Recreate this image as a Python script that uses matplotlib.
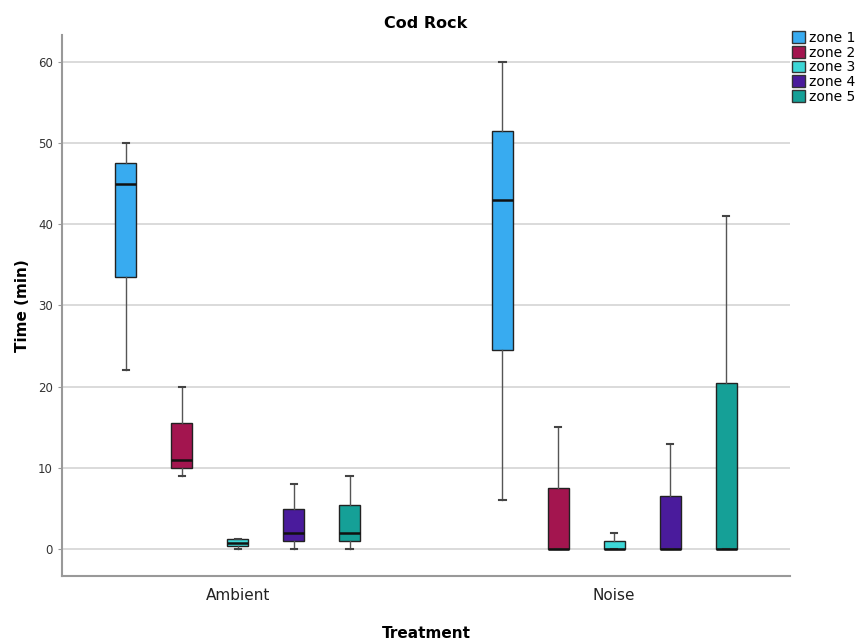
import matplotlib
matplotlib.use("Agg")
import matplotlib.pyplot as plt
from matplotlib.patches import Patch

# data (minutes)
treatments = ["Ambient", "Noise"]
zones = ["zone 1", "zone 2", "zone 3", "zone 4", "zone 5"]
zone_colors = ["#38abf0", "#a3154f", "#3dd6d6", "#4a1b9c", "#15a097"]

# whisker low, Q1, median, Q3, whisker high
ambient_low = [22, 9, 0, 0, 0]
ambient_q1 = [33.5, 10, 0.4, 1, 1]
ambient_med = [45, 11, 0.8, 2, 2]
ambient_q3 = [47.5, 15.5, 1.2, 5, 5.5]
ambient_high = [50, 20, 1.2, 8, 9]

noise_low = [6, 0, 0, 0, 0]
noise_q1 = [24.5, 0, 0, 0, 0]
noise_med = [43, 0, 0, 0, 0]
noise_q3 = [51.5, 7.5, 1, 6.5, 20.5]
noise_high = [60, 15, 2, 13, 41]

groups = [
    (ambient_low, ambient_q1, ambient_med, ambient_q3, ambient_high),
    (noise_low, noise_q1, noise_med, noise_q3, noise_high),
]

fig = plt.figure(figsize=(8.67, 6.44), dpi=100)
ax = fig.add_axes([0.0715, 0.1056, 0.8397, 0.8401])

step = 56 / 377  # spacing between boxes in group units
width = 21 / 377

for g, (lo, q1, med, q3, hi) in enumerate(groups):
    for i in range(len(zones)):
        pos = g + (i - 2) * step
        stats = [dict(whislo=lo[i], q1=q1[i], med=med[i], q3=q3[i], whishi=hi[i], fliers=[])]
        ax.bxp(stats, positions=[pos], widths=width, patch_artist=True,
               showfliers=False, manage_ticks=False,
               boxprops=dict(facecolor=zone_colors[i], edgecolor="#222222", linewidth=1.0),
               medianprops=dict(color="#111111", linewidth=1.8),
               whiskerprops=dict(color="#555555", linewidth=1.0),
               capprops=dict(color="#444444", linewidth=1.5),
               capwidths=width * 0.3, zorder=3)

ax.set_xlim(-0.467, 1.467)
ax.set_ylim(-3.3, 63.3)
ax.set_yticks([0, 10, 20, 30, 40, 50, 60])
ax.set_xticks([0, 1])
ax.set_xticklabels(treatments, fontsize=11, color="#222222")
ax.tick_params(axis="y", labelsize=8.5, labelcolor="#333333", length=3, color="#999999")
ax.tick_params(axis="x", length=0, pad=9)
ax.yaxis.grid(True, color="#d4d4d4", linewidth=1.2, zorder=0)
ax.set_axisbelow(True)

for side in ["top", "right"]:
    ax.spines[side].set_visible(False)
ax.spines["left"].set_color("#999999")
ax.spines["left"].set_linewidth(1.5)
ax.spines["bottom"].set_color("#999999")
ax.spines["bottom"].set_linewidth(1.5)

ax.set_title("Cod Rock", fontsize=11.5, fontweight="bold", pad=5)
ax.set_ylabel("Time (min)", fontsize=11, fontweight="bold", labelpad=6)
ax.set_xlabel("Treatment", fontsize=11, fontweight="bold", labelpad=16)

handles = [Patch(facecolor=c, edgecolor="#333333", label=z) for z, c in zip(zones, zone_colors)]
fig.legend(handles=handles, loc="upper left", bbox_to_anchor=(0.914, 0.952),
           frameon=False, fontsize=10, handlelength=0.9, handleheight=0.9,
           handletextpad=0.3, labelspacing=0.05, borderaxespad=0, borderpad=0)

fig.savefig("out.png", dpi=100)
